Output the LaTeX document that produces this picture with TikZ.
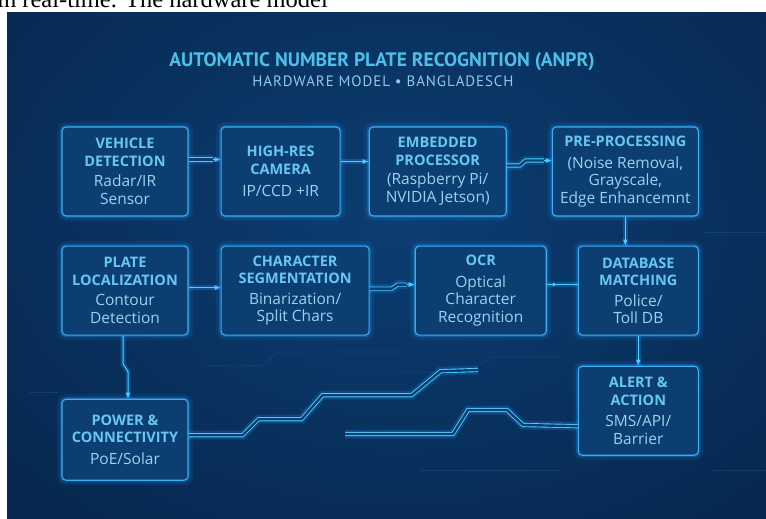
\documentclass[tikz,border=0pt]{standalone}
\usepackage{fontspec}
\setmainfont{Open Sans}
\newfontfamily\headfont{PT Sans}
\newfontfamily\pagefont{Liberation Serif}
\usetikzlibrary{positioning,calc,arrows.meta}
\definecolor{bgdark}{HTML}{031A38}
\definecolor{bgmid}{HTML}{0C3D72}
\definecolor{boxfill}{HTML}{0D3E72}
\definecolor{edge}{HTML}{3DAEF2}
\definecolor{glow}{HTML}{1E9BFF}
\definecolor{wirec}{HTML}{4AD0FF}
\definecolor{headtxt}{HTML}{66C8F2}
\definecolor{bodytxt}{HTML}{9AD3F0}
\definecolor{titletxt}{HTML}{4DC0E8}
\definecolor{subtxt}{HTML}{8DCBEA}
\newcommand{\hd}[1]{{\bfseries\fontsize{14.5}{17.5}\selectfont\color{headtxt}#1}}
\tikzset{
  stage/.style={draw=edge,line width=1.1pt,rounded corners=4pt,fill=boxfill,text=bodytxt,align=center,
    inner sep=0pt,minimum height=89pt,font=\fontsize{15.5}{17.5}\selectfont,
    preaction={draw=glow,line width=10pt,draw opacity=0.10},preaction={draw=glow,line width=4.5pt,draw opacity=0.25}},
  link/.style={draw=wirec,line width=1pt,-{Latex[length=6pt,width=5pt]},
    preaction={draw=glow,arrows=-,line width=5pt,draw opacity=0.28}},
  wire/.style={draw=wirec,line width=1pt,preaction={draw=glow,line width=5pt,draw opacity=0.28}},
  twin/.style={draw=glow,line width=9pt,draw opacity=0.2,
    postaction={draw=wirec,draw opacity=1,line width=0.9pt,double=boxfill,double distance=2.4pt}},
  faint/.style={draw=wirec,line width=0.6pt,draw opacity=0.12}
}
\begin{document}
\begin{tikzpicture}[x=1pt,y=-1pt]
  \clip (0,0) rectangle (766,519);
  \fill[white] (0,0) rectangle (766,519);
  \node[anchor=base west,inner sep=0pt,font=\pagefont\fontsize{24.5}{24.5}\selectfont] (cut) at (-3,7.5) {in real-time. The hardware model};
  \fill[bgdark] (7,13) rectangle (766,519);
  \begin{scope}
    \clip (7,13) rectangle (766,519);
    \shade[inner color=bgmid,outer color=bgdark] (400,220) ellipse [x radius=900,y radius=640];
  \end{scope}
  \draw[faint] (205,366) -- (262,366) -- (278,352) -- (400,352);
  \draw[faint] (400,372) -- (470,372) -- (490,357) -- (560,357);
  \draw[faint] (420,470) -- (560,470);
  \draw[faint] (705,232) -- (766,232);
  \draw[faint] (712,470) -- (766,470);
  \draw[faint] (30,392) -- (58,392);

  \node[font=\headfont\bfseries\fontsize{19.5}{21}\selectfont,text=titletxt] (ttl) at (382,62) {AUTOMATIC NUMBER PLATE RECOGNITION (ANPR)};
  \node[font=\headfont\fontsize{15}{16}\selectfont\addfontfeature{LetterSpace=6},text=subtxt] (sub) at (383,81) {HARDWARE MODEL \textbullet{} BANGLADESCH};

  \node[stage,minimum width=126pt] (vd) at (125,171.5) {\hd{VEHICLE}\\\hd{DETECTION}\\[3pt]Radar/IR\\Sensor};
  \node[stage,minimum width=119pt,right=32pt of vd] (hrc) {\hd{HIGH-RES}\\\hd{CAMERA}\\[5pt]IP/CCD +IR};
  \node[stage,minimum width=137pt,right=28pt of hrc] (ep) {\hd{EMBEDDED}\\\hd{PROCESSOR}\\[2pt](Raspberry Pi/\\NVIDIA Jetson)};
  \node[stage,minimum width=146pt,right=45pt of ep] (pp) {\hd{PRE-PROCESSING}\\[4pt](Noise Removal,\\Grayscale,\\Edge Enhancemnt};
  \node[stage,minimum width=126pt,below=29pt of vd] (pl) {\hd{PLATE}\\\hd{LOCALIZATION}\\[3pt]Contour\\Detection};
  \node[stage,minimum width=148pt,right=32pt of pl] (cs) {\hd{CHARACTER}\\\hd{SEGMENTATION}\\[3pt]Binarization/\\Split Chars};
  \node[stage,minimum width=131pt,right=45pt of cs] (ocr) {\hd{OCR}\\[4pt]Optical\\Character\\Recognition};
  \node[stage,minimum width=120pt,right=31pt of ocr] (db) {\hd{DATABASE}\\\hd{MATCHING}\\[3pt]Police/\\Toll DB};
  \node[stage,minimum width=126pt,minimum height=81pt,below=63pt of pl] (pw) {\hd{POWER \&}\\\hd{CONNECTIVITY}\\[4pt]PoE/Solar};
  \node[stage,minimum width=120pt,below=30pt of db] (al) {\hd{ALERT \&}\\\hd{ACTION}\\[4pt]SMS/API/\\Barrier};

  \draw[twin] ([yshift=12pt]vd.east) -- ([xshift=-8pt,yshift=12pt]hrc.west);
  \draw[link] ([xshift=-8pt,yshift=12pt]hrc.west) -- ([yshift=12pt]hrc.west);
  \draw[link] ([yshift=10pt]hrc.east) -- ([yshift=10pt]ep.west);
  \draw[twin] ([yshift=6pt]ep.east) -- ++(13,0) -- ++(6,-5) -- ([xshift=-8pt,yshift=11pt]pp.west);
  \draw[link] ([xshift=-8pt,yshift=11pt]pp.west) -- ([yshift=11pt]pp.west);
  \draw[link] (pp.south) -- (pp.south |- db.north);
  \draw[link] ([yshift=3pt]pl.east) -- ([yshift=3pt]cs.west);
  \draw[twin] ([yshift=2pt]cs.east) -- ++(22,0) -- ++(6,-4) -- ([xshift=-8pt,yshift=6pt]ocr.west);
  \draw[link] ([xshift=-8pt,yshift=6pt]ocr.west) -- ([yshift=6pt]ocr.west);
  \draw[wire] ([yshift=6pt]ocr.east) -- ([yshift=6pt]ocr.east -| db.west);
  \fill[wirec] ([xshift=7pt,yshift=6pt]ocr.east) circle[radius=1.8pt];
  \draw[link] (db.south) -- (al.north);
  \draw[link] ([xshift=-2pt]pl.south) -- ++(0,28) -- ++(5,8) -- ([xshift=3pt]pw.north);

  \coordinate (fadeout) at (478,370);
  \coordinate (fadein) at (345,434);
  \draw[twin] ([yshift=4.5pt]pw.east) -- ++(54,0) -- ++(16,-16) -- ++(43,0) -- ++(21,-24) -- ++(89,0) -- ++(29,-24) -- (fadeout);
  \draw[twin] (fadein) -- ++(108,0) -- ++(15,-24) -- ++(39,0) -- ++(16,15) -- ([yshift=-15.5pt]al.west);
\end{tikzpicture}
\end{document}
